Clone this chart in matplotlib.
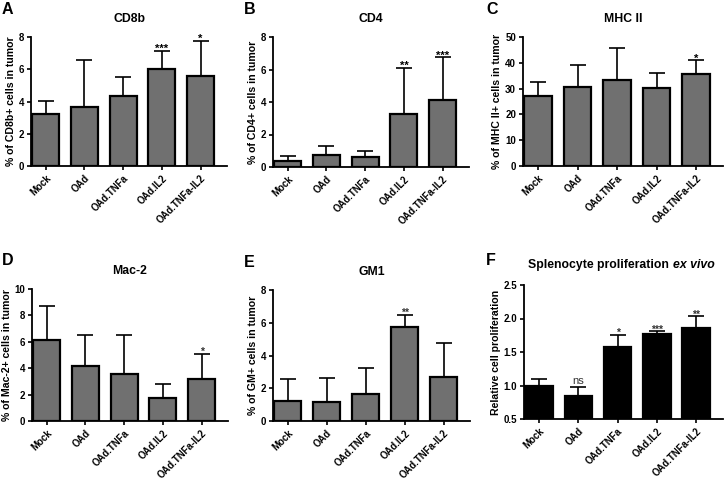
import numpy as np
import matplotlib
matplotlib.use("Agg")
import matplotlib.pyplot as plt

plt.rcParams['font.family'] = ['Liberation Sans', 'DejaVu Sans']

groups = ["Mock", "OAd", "OAd.TNFa", "OAd.IL2", "OAd.TNFa-IL2"]

# means and upper error bar tops
cd8b = [3.2, 3.65, 4.35, 6.0, 5.6]
cd8b_top = [4.05, 6.55, 5.5, 7.15, 7.75]
cd8b_sig = ["", "", "", "***", "*"]

cd4 = [0.35, 0.75, 0.62, 3.25, 4.1]
cd4_top = [0.68, 1.3, 1.0, 6.1, 6.75]
cd4_sig = ["", "", "", "**", "***"]

mhc = [27.0, 30.7, 33.3, 30.2, 35.8]
mhc_top = [32.6, 39.2, 45.6, 36.2, 41.0]
mhc_sig = ["", "", "", "", "*"]

mac2 = [6.1, 4.15, 3.55, 1.75, 3.2]
mac2_top = [8.7, 6.5, 6.5, 2.8, 5.1]
mac2_sig = ["", "", "", "", "*"]

gm1 = [1.2, 1.15, 1.65, 5.75, 2.7]
gm1_top = [2.55, 2.6, 3.25, 6.5, 4.75]
gm1_sig = ["", "", "", "**", ""]

splen = [1.0, 0.85, 1.57, 1.77, 1.86]
splen_top = [1.1, 0.98, 1.76, 1.81, 2.03]
splen_sig = ["", "ns", "*", "***", "**"]

W, H = 726, 480
fig = plt.figure(figsize=(W / 100, H / 100), dpi=100)


def box(l, r, t, b):
    return [l / W, (H - b) / H, (r - l) / W, (b - t) / H]


def panel(rect, letter, letter_xy, title, ylabel, vals, tops, sigs, ylim,
          yticks, color, base=0.0, yfmt=None, sig_small=False):
    ax = fig.add_axes(box(*rect))
    x = np.arange(len(groups))
    heights = np.array(vals) - base
    ax.bar(x, heights, bottom=base, width=0.7, color=color,
           edgecolor="black", linewidth=1.6, zorder=3)
    err = np.array(tops) - np.array(vals)
    ax.errorbar(x, vals, yerr=[np.zeros(len(x)), err], fmt="none",
                ecolor="black", elinewidth=1.2, capsize=5.5, capthick=1.2,
                zorder=2)
    span = ylim[1] - ylim[0]
    for xi, t, s in zip(x, tops, sigs):
        if not s:
            continue
        if s == "ns":
            ax.text(xi, t + span * 0.005, s, ha="center", va="bottom",
                    fontsize=8, color="#333333")
        else:
            ax.text(xi, t - span * 0.025, s, ha="center", va="bottom",
                    fontsize=7.5 if sig_small else 8,
                    fontweight="bold",
                    color="#333333" if sig_small else "black")
    ax.set_xlim(-0.38, 4.68)
    ax.set_ylim(*ylim)
    ax.set_yticks(yticks)
    if yfmt:
        ax.set_yticklabels([yfmt % v for v in yticks])
    ax.set_xticks(x)
    ax.set_xticklabels(groups, rotation=45, ha="right",
                       rotation_mode="anchor", fontsize=6.9, fontweight="bold")
    for lab in ax.get_yticklabels():
        lab.set_fontweight("bold")
        lab.set_fontsize(7)
    ax.spines["top"].set_visible(False)
    ax.spines["right"].set_visible(False)
    ax.spines["left"].set_linewidth(1.3)
    ax.spines["bottom"].set_linewidth(1.3)
    ax.tick_params(width=1.2, length=3, pad=2)
    ax.set_ylabel(ylabel, fontsize=7.6, fontweight="bold", labelpad=2)
    if title:
        ax.set_title(title, fontsize=8.8, fontweight="bold", pad=11)
    fig.text(letter_xy[0] / W, 1 - letter_xy[1] / H, letter, fontsize=11.5,
             fontweight="bold", ha="left", va="top")
    return ax


grey = "#707070"
panel((31, 227, 37, 166), "A", (2, 2), "CD8b", "% of CD8b+ cells in tumor",
      cd8b, cd8b_top, cd8b_sig, (0, 8), [0, 2, 4, 6, 8], grey)
panel((273, 469, 37, 167), "B", (244, 2), "CD4", "% of CD4+ cells in tumor",
      cd4, cd4_top, cd4_sig, (0, 8), [0, 2, 4, 6, 8], grey)
panel((523, 723, 37, 166), "C", (486, 2), "MHC II",
      "% of MHC II+ cells in tumor",
      mhc, mhc_top, mhc_sig, (0, 50), [0, 10, 20, 30, 40, 50], grey)
panel((32, 228, 289, 421), "D", (2, 253), "Mac-2",
      "% of Mac-2+ cells in tumor",
      mac2, mac2_top, mac2_sig, (0, 10), [0, 2, 4, 6, 8, 10], grey,
      sig_small=True)
panel((273, 470, 290, 421), "E", (244, 255), "GM1", "% of GM+ cells in tumor",
      gm1, gm1_top, gm1_sig, (0, 8), [0, 2, 4, 6, 8], grey,
      sig_small=True)
axF = panel((524, 723, 285, 419), "F", (486, 253), None,
            "Relative cell proliferation",
            splen, splen_top, splen_sig, (0.5, 2.5),
            [0.5, 1.0, 1.5, 2.0, 2.5], "black", base=0.5, yfmt="%.1f",
            sig_small=True)

# title of F: upright bold part followed by a bold italic part
fig.canvas.draw()
r = fig.canvas.get_renderer()
cx = (524 + 719) / 2 / W
ty = 1 - 265 / H
t1 = fig.text(0, ty, "Splenocyte proliferation ", fontsize=8.8,
              fontweight="bold", ha="left", va="center")
t2 = fig.text(0, ty, "ex vivo", fontsize=8.8, fontweight="bold",
              style="italic", ha="left", va="center")
w1 = t1.get_window_extent(r).width / W
w2 = t2.get_window_extent(r).width / W
x0 = cx - (w1 + w2) / 2
t1.set_x(x0)
t2.set_x(x0 + w1)

fig.savefig("out.png", dpi=100)
